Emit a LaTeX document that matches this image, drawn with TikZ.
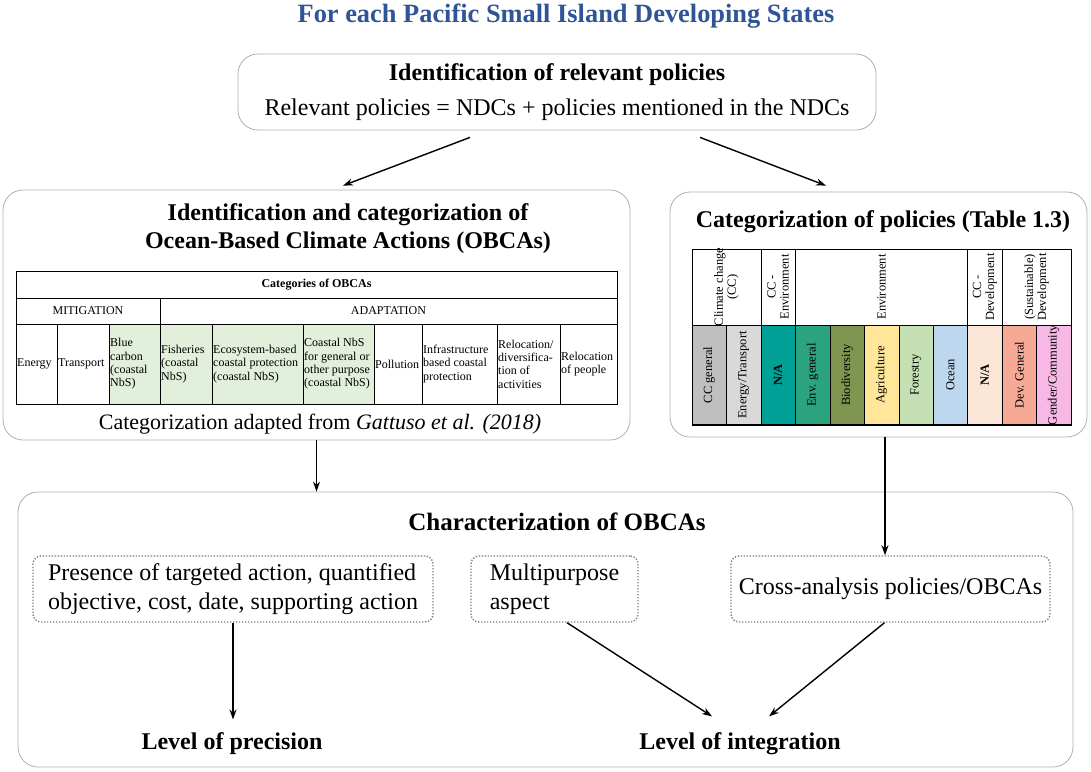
\documentclass[tikz,border=0pt]{standalone}
\usepackage{fontspec}
\setmainfont{Liberation Serif}
\usetikzlibrary{arrows.meta}

\definecolor{titleblue}{RGB}{47,85,151}
\definecolor{boxgray}{RGB}{175,175,175}
\definecolor{dotgray}{RGB}{125,125,125}
\definecolor{nbsgreen}{RGB}{226,239,218}
\definecolor{ccgen}{RGB}{191,191,191}
\definecolor{ccet}{RGB}{217,217,217}
\definecolor{natl}{RGB}{0,160,150}
\definecolor{envgen}{RGB}{42,163,126}
\definecolor{biodiv}{RGB}{128,150,80}
\definecolor{agri}{RGB}{255,230,153}
\definecolor{forest}{RGB}{197,224,180}
\definecolor{oceanc}{RGB}{189,215,238}
\definecolor{napeach}{RGB}{251,229,214}
\definecolor{devgen}{RGB}{246,170,150}
\definecolor{gender}{RGB}{248,184,230}

\begin{document}
\begin{tikzpicture}[x=1pt,y=-1pt,
  box/.style={draw=boxgray,line width=0.8pt,rounded corners=20pt},
  dotbox/.style={draw=dotgray,dash pattern=on 1.3pt off 1.7pt,line width=1.4pt,rounded corners=8pt},
  arr/.style={-{Stealth[length=10pt,width=7pt]},line width=1.4pt},
  txt/.style={font=\fontsize{24}{29}\selectfont},
  btxt/.style={font=\bfseries\fontsize{24}{28}\selectfont},
  cell/.style={font=\fontsize{12}{13.3}\selectfont,align=left,anchor=west,inner sep=1pt},
  vcell/.style={font=\fontsize{12.5}{13}\selectfont,align=center,rotate=90,inner sep=0pt}]
\useasboundingbox (0,0) rectangle (1091,771);

\node[font=\bfseries\fontsize{26.4}{30}\selectfont,text=titleblue] (title) at (566,16) {For each Pacific Small Island Developing States};

\node[box,minimum width=638pt,minimum height=76pt,align=center,font=\fontsize{24}{35}\selectfont] (relev) at (557,92) {\textbf{Identification of relevant policies}\\Relevant policies = NDCs + policies mentioned in the NDCs};

% left box: OBCAs
\node[box,minimum width=627pt,minimum height=250pt] (obca) at (316.5,315) {};
\node[btxt,align=center] (obcat) at (348,229) {Identification and categorization of\\Ocean-Based Climate Actions (OBCAs)};
\fill[nbsgreen] (109,324) rectangle (374,404);
\draw (16,271) rectangle (617,404) (16,298) -- (617,298) (16,324) -- (617,324) (160,298) -- (160,404);
\foreach \x in {57,109,212,303,374,422,497,560} \draw (\x,324) -- (\x,404);
\node[font=\bfseries\fontsize{12}{14}\selectfont] (cath) at (316.5,284.5) {Categories of OBCAs};
\node[font=\fontsize{12}{14}\selectfont] (miti) at (88,311) {MITIGATION};
\node[font=\fontsize{12}{14}\selectfont] (adap) at (388.5,311) {ADAPTATION};
\foreach \x/\t [count=\i] in {16/{Energy}, 57/{Transport}, 109/{Blue\\carbon\\(coastal\\NbS)}, 160/{Fisheries\\(coastal\\NbS)}, 212/{Ecosystem-based\\coastal protection\\(coastal NbS)}, 303/{Coastal NbS\\for general or\\other purpose\\(coastal NbS)}, 374/{Pollution}, 422/{Infrastructure\\based coastal\\protection}, 497/{Relocation/\\diversifica-\\tion of\\activities}, 560/{Relocation\\of people}}
  \node[cell] (oc\i) at (\x,364) {\t};
\node[font=\fontsize{22}{26}\selectfont] (cap) at (320,424) {Categorization adapted from \textit{Gattuso et al. (2018)}};

% right box: policies
\node[box,minimum width=417pt,minimum height=245pt] (pol) at (878.5,314.5) {};
\node[btxt] (polt) at (883,222) {Categorization of policies (Table 1.3)};
\foreach \col/\t [count=\i from 0] in {ccgen/{CC general}, ccet/{Energy/Transport}, natl/{\textbf{N/A}}, envgen/{Env. general}, biodiv/{Biodiversity}, agri/{Agriculture}, forest/{Forestry}, oceanc/{Ocean}, napeach/{\textbf{N/A}}, devgen/{Dev. General}, gender/{Gender/Community}}
{
  \filldraw[fill=\col] ({692+\i*34.45},325) rectangle ++(34.45,100);
  \node[vcell] (pc\i) at ({709.2+\i*34.45},375) {\t};
}
\foreach \a/\b/\t [count=\j] in {0/2/{Climate change\\(CC)}, 2/3/{CC -\\Environment}, 3/8/{Environment}, 8/9/{CC -\\Development}, 9/11/{(Sustainable)\\Development}}
{
  \draw ({692+\a*34.45},249) rectangle ({692+\b*34.45},325);
  \node[vcell] (ph\j) at ({692+(\a+\b)*17.225},287) {\t};
}
\draw[line width=1.6pt] (692,425) -- (1071,425);

% bottom box
\node[box,minimum width=1055pt,minimum height=275pt] (char) at (545.5,629.5) {};
\node[btxt,font=\bfseries\fontsize{25}{28}\selectfont] (chart) at (557,522) {Characterization of OBCAs};
\node[dotbox,txt,align=left,minimum width=400pt,minimum height=66pt] (pres) at (233,589) {Presence of targeted action, quantified\\objective, cost, date, supporting action};
\node[dotbox,txt,align=left,minimum width=167pt,minimum height=66pt] (mult) at (554.5,589) {Multipurpose\\aspect};
\node[dotbox,txt,minimum width=319pt,minimum height=66pt] (cross) at (890.5,589) {Cross-analysis policies/OBCAs};
\node[btxt] (prec) at (232,744) {Level of precision};
\node[btxt] (integ) at (740,744) {Level of integration};

\draw[arr] ([xshift=-87pt,yshift=-7pt]relev.south) -- ([xshift=26.5pt,yshift=4pt]obca.north);
\draw[arr] ([xshift=143pt,yshift=-7pt]relev.south) -- ([xshift=-52.5pt,yshift=6pt]pol.north);
\draw[arr] (obca.south) -- (obca.south |- char.north);
\draw[arr] ([xshift=6.5pt]pol.south) -- ([xshift=6.5pt]pol.south |- cross.north);
\draw[arr] (pres.south) -- ([yshift=10pt]pres.south |- prec.north);
\draw[arr] ([xshift=12.5pt]mult.south) -- ([xshift=-28pt,yshift=13pt]integ.north);
\draw[arr] ([xshift=-6pt]cross.south) -- ([xshift=29pt,yshift=13pt]integ.north);
\end{tikzpicture}
\end{document}
